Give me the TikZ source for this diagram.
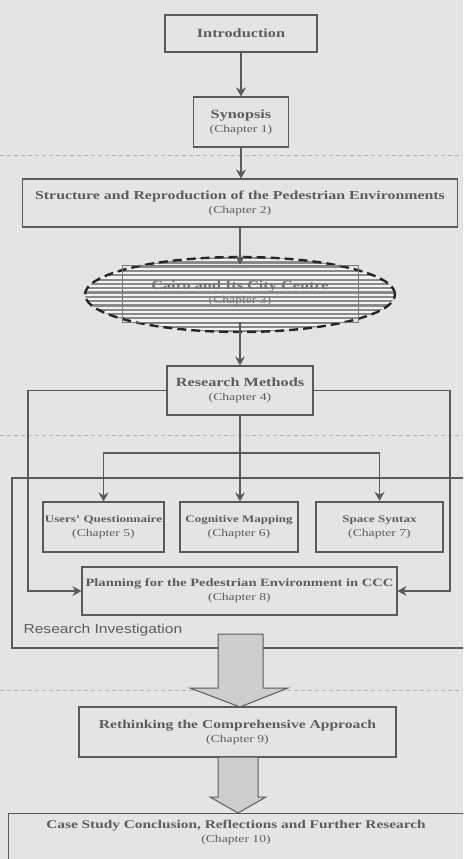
\documentclass[tikz,border=0pt]{standalone}
\usepackage{fontspec}
\setmainfont[FakeStretch=1.3]{Liberation Serif}
\newfontfamily\lblfont[FakeStretch=1.2]{Liberation Sans}
\usetikzlibrary{arrows.meta,shapes.geometric}
\definecolor{bgc}{HTML}{E4E4E2}
\definecolor{linec}{HTML}{5A5A5A}
\definecolor{txtc}{HTML}{5C5C5C}
\definecolor{ghostc}{HTML}{B4B4B4}
\definecolor{stripec}{HTML}{8A8A8A}
\definecolor{stripebg}{HTML}{F2F2F2}
\definecolor{blockc}{HTML}{CDCDCB}
\newcommand{\ttl}[2][12.5]{{\fontsize{#1}{14}\selectfont\bfseries #2}}
\newcommand{\chp}[1]{{\fontsize{10.5}{14}\selectfont #1}}
\tikzset{
  box/.style={draw=linec, line width=1.1pt, inner sep=0pt, align=center, text=txtc,
              font=\fontsize{11}{14}\selectfont},
  arr/.style={draw=linec, line width=1.1pt, -{Stealth[length=9pt,width=10pt]}},
  ghost/.style={draw=ghostc, line width=0.8pt, dash pattern=on 4pt off 3pt},
  blockarrow/.style={fill=blockc, draw=linec, line width=1pt, line join=miter},
}
\begin{document}
\begin{tikzpicture}[x=1pt,y=-1pt]
\useasboundingbox (0,0) rectangle (463,859);
\fill[bgc] (0,0) rectangle (463,859);
\clip (0,0) rectangle (463,859);

% faint fold lines
\draw[ghost] (0,155) -- (463,155);
\draw[ghost] (0,435) -- (463,435);
\draw[ghost] (0,690) -- (463,690);

% top nodes
\node[box, minimum width=152pt, minimum height=37pt] (intro) at (241,33.5) {\ttl{Introduction}};
\node[box, minimum width=95pt, minimum height=50pt] (syn) at (241,122) {\ttl{Synopsis}\\\chp{(Chapter 1)}};
\node[box, minimum width=435pt, minimum height=48pt] (ch2) at (240,203)
  {\ttl[12.2]{Structure and Reproduction of the Pedestrian Environments}\\\chp{(Chapter 2)}};

% Cairo ellipse
\begin{scope}
  \clip (240,294.5) ellipse [x radius=155, y radius=37.5];
  \fill[stripebg] (80,255) rectangle (400,335);
  \foreach \yy in {257,261.3,...,334} \fill[stripec] (80,\yy) rectangle (400,\yy+2.2);
\end{scope}
\node[ellipse, draw=black!85, line width=2.4pt, dash pattern=on 9pt off 5pt,
      minimum width=310pt, minimum height=75pt, inner sep=0pt] (cairo) at (240,294.5) {};
\node[box, draw=linec!80, line width=0.8pt, text=black!55, minimum width=236pt, minimum height=57pt] (ch3) at (240,293.5)
  {\ttl{Cairo and Its City Centre}\\\chp{(Chapter 3)}};

\node[box, minimum width=146pt, minimum height=49pt] (rm) at (240,390.5) {\ttl{Research Methods}\\\chp{(Chapter 4)}};

% Research investigation frame
\node[draw=linec, line width=1.1pt, minimum width=463pt, minimum height=170pt, inner sep=0pt] (ri) at (243.5,563) {};
\node[text=txtc, font=\lblfont\fontsize{13}{15}\selectfont, anchor=west] (rilabel) at (20,630.5) {Research Investigation};

\node[box, minimum width=121pt, minimum height=50pt] (uq) at (103.5,527) {\ttl[10]{Users' Questionnaire}\\\chp{(Chapter 5)}};
\node[box, minimum width=118pt, minimum height=50pt] (cm) at (239,527) {\ttl[10]{Cognitive Mapping}\\\chp{(Chapter 6)}};
\node[box, line width=2.4pt, minimum width=127pt, minimum height=50pt] (ss) at (379.5,527) {\ttl[10]{Space Syntax}\\\chp{(Chapter 7)}};
\node[box, minimum width=315pt, minimum height=48pt] (plan) at (239.5,591)
  {\ttl[11.2]{Planning for the Pedestrian Environment in CCC}\\\chp{(Chapter 8)}};

\node[box, minimum width=317pt, minimum height=50pt] (re) at (237.5,732)
  {\ttl[12]{Rethinking the Comprehensive Approach}\\\chp{(Chapter 9)}};
\node[box, minimum width=467pt, minimum height=60pt, anchor=north west] (cs) at (8,813) {};
\node[text=txtc, align=center, font=\fontsize{11}{14}\selectfont, anchor=north] (cstext) at (236,817)
  {\ttl[11.8]{Case Study Conclusion, Reflections and Further Research}\\\chp{(Chapter 10)}};

% connectors
\coordinate (br) at (240,453);
\coordinate (lx) at (28,450);
\coordinate (rx) at (450,450);
\draw[arr] (intro) -- (syn);
\draw[arr] (syn) -- (syn |- ch2.north);
\draw[arr] (ch2.south -| ch3.north) -- (ch3.north);
\draw[arr] (ch3.south) -- (rm.north);
\draw[arr] (rm.south) -- (rm.south |- cm.north);
\draw[arr] (br) -| (uq.north);
\draw[arr] (br) -| (ss.north);
\draw[arr] (rm.west) -- (rm.west -| lx) |- (plan.west);
\draw[arr] (rm.east) -- (rm.east -| rx) |- (plan.east);

% block arrows
\draw[blockarrow] (218,634) -- (263,634) -- (263,688) -- (288,688) -- (240,707) -- (190,688) -- (218,688) -- cycle;
\draw[blockarrow] (218,757) -- (258,757) -- (258,797) -- (266,797) -- (238,813) -- (210,797) -- (218,797) -- cycle;
\end{tikzpicture}
\end{document}
